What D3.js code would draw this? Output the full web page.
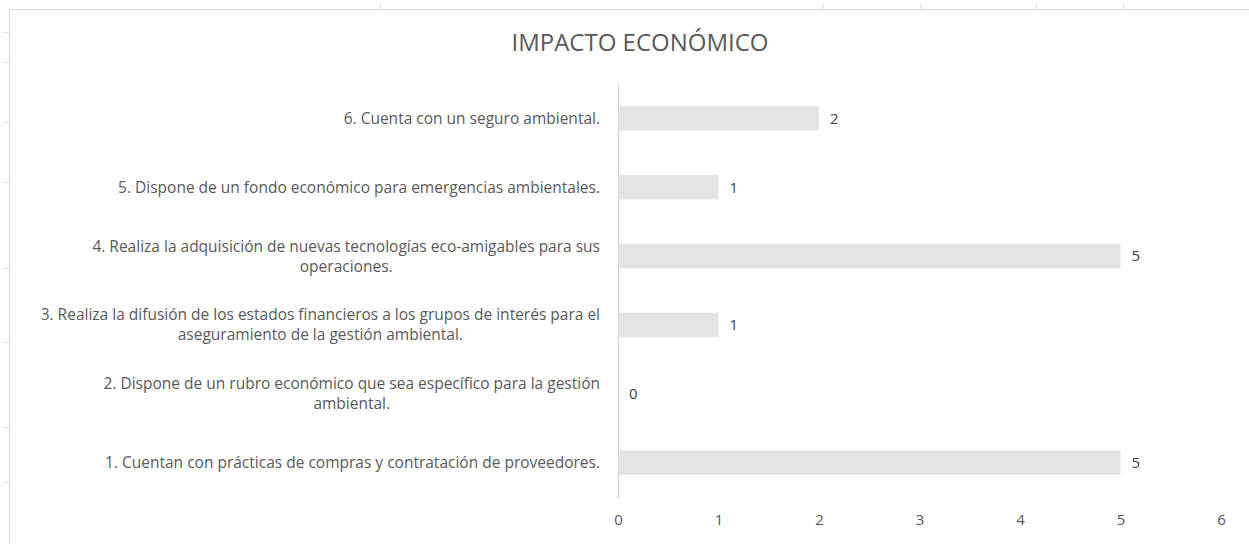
<!DOCTYPE html>
<html>
<head>
<meta charset="utf-8">
<script src="https://cdn.jsdelivr.net/npm/d3@7"></script>
<style>
  html, body { margin: 0; padding: 0; background: #fff; }
  svg { display: block; font-family: "Open Sans", "Noto Sans", sans-serif; }
</style>
</head>
<body>
<div id="chart"></div>
<script>
// ========== DATA ==========
const title = "IMPACTO ECONÓMICO";

// categories, top to bottom, already split into lines like the original
const categories = [
  ["6. Cuenta con un seguro ambiental."],
  ["5. Dispone de un fondo económico para emergencias ambientales."],
  ["4. Realiza la adquisición de nuevas tecnologías eco-amigables para sus", "operaciones."],
  ["3. Realiza la difusión de los estados financieros a los grupos de interés para el", "aseguramiento de la gestión ambiental."],
  ["2. Dispone de un rubro económico que sea específico para la gestión", "ambiental."],
  ["1. Cuentan con prácticas de compras y contratación de proveedores."]
];
const values = [2, 1, 5, 1, 0, 5];
const tickValues = [0, 1, 2, 3, 4, 5, 6];

// ========== LAYOUT ==========
const width = 1249;
const height = 544;
const plot = { left: 618, right: 1221, top: 84, bottom: 497 };
const textColor = "#595959";
const barColor = "#e3e3e3";
const lineColor = "#d9d9d9";

const svg = d3.select("#chart")
  .append("svg")
  .attr("width", width)
  .attr("height", height);

// chart frame (top + left edges visible, rest runs off the picture)
svg.append("path")
  .attr("d", `M9.5,${height} V9.5 H${width}`)
  .style("fill", "none")
  .style("stroke", "#d9d9d9");

// faint sheet gridline stubs peeking out around the frame
[32, 62, 122, 182, 268, 342, 427, 482].forEach(y => {
  svg.append("line")
    .attr("x1", 3).attr("x2", 9)
    .attr("y1", y + 0.5).attr("y2", y + 0.5)
    .style("stroke", "#e4e4e4");
});
[380, 823, 920, 1036, 1123].forEach(x => {
  svg.append("line")
    .attr("x1", x + 0.5).attr("x2", x + 0.5)
    .attr("y1", 3).attr("y2", 9)
    .style("stroke", "#e4e4e4");
});

// ========== SCALES ==========
const x = d3.scaleLinear()
  .domain([0, 6])
  .range([plot.left, plot.right]);

const y = d3.scaleBand()
  .domain(d3.range(categories.length))
  .range([plot.top, plot.bottom])
  .paddingInner(0.645)
  .paddingOuter(0.3225);

// ========== TITLE ==========
svg.append("text")
  .attr("x", 640)
  .attr("y", 51)
  .style("fill", textColor)
  .style("font-size", "24px")
  .style("text-anchor", "middle")
  .text(title);

// ========== BARS ==========
svg.append("g")
  .selectAll("rect")
  .data(values)
  .join("rect")
  .attr("x", x(0))
  .attr("y", (d, i) => y(i))
  .attr("width", d => x(d) - x(0))
  .attr("height", y.bandwidth())
  .style("fill", barColor);

// value axis line (drawn as the category axis)
svg.append("line")
  .attr("x1", x(0) + 0.5).attr("x2", x(0) + 0.5)
  .attr("y1", plot.top).attr("y2", plot.bottom + 1)
  .style("stroke", lineColor)
  .style("stroke-width", 1.5);

// data labels
svg.append("g")
  .selectAll("text")
  .data(values)
  .join("text")
  .attr("x", d => x(d) + 11)
  .attr("y", (d, i) => y(i) + y.bandwidth() / 2)
  .attr("dy", "0.35em")
  .style("fill", "#404040")
  .style("font-size", "15px")
  .text(d => d);

// ========== X AXIS ==========
const xAxis = svg.append("g")
  .attr("transform", `translate(0, ${plot.bottom})`)
  .call(d3.axisBottom(x).tickValues(tickValues).tickSize(0).tickPadding(17).tickFormat(d3.format("d")));
xAxis.select(".domain").remove();
xAxis.selectAll("text")
  .style("fill", textColor)
  .style("font-family", "\"Open Sans\", sans-serif")
  .style("font-size", "15px");

// ========== CATEGORY LABELS ==========
const labelRight = 600;
const lineHeight = 20;

categories.forEach((lines, i) => {
  const cy = y(i) + y.bandwidth() / 2;
  const g = svg.append("g");
  const texts = lines.map((line, j) =>
    g.append("text")
      .attr("y", cy + (j - (lines.length - 1) / 2) * lineHeight)
      .attr("dy", "0.35em")
      .style("fill", textColor)
      .style("font-size", "15.5px")
      .style("text-anchor", "middle")
      .text(line)
  );
  // block is right aligned, lines centered inside the block
  const blockWidth = d3.max(texts, t => t.node().getComputedTextLength());
  texts.forEach(t => t.attr("x", labelRight - blockWidth / 2));
});
</script>
</body>
</html>
